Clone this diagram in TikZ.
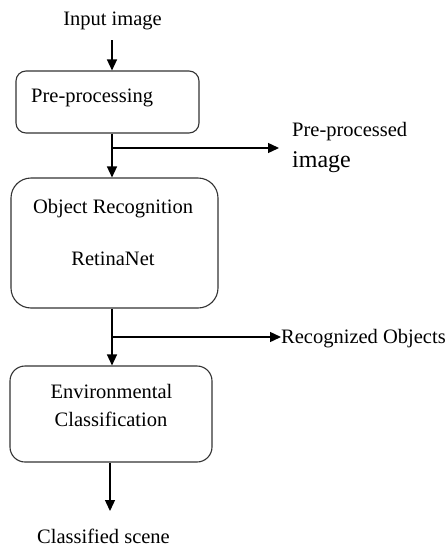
\documentclass[tikz,border=0pt]{standalone}
\usepackage{fontspec}
\setmainfont{Liberation Serif}
\usetikzlibrary{arrows.meta}
\begin{document}
\begin{tikzpicture}[x=1pt,y=-1pt,
  box/.style={draw=black!80,line width=1.1pt,rounded corners=#1,inner sep=0pt},
  box/.default=10pt,
  lbl/.style={font=\fontsize{20.5}{24}\selectfont,inner sep=0pt,anchor=base},
  arr/.style={line width=1.4pt,-{Triangle[length=11pt,width=10pt]}},
  ln/.style={line width=1.4pt}]
\useasboundingbox (0,0) rectangle (446,549);
% boxes
\node[box=10pt,minimum width=183pt,minimum height=62pt] (b1) at (107.5,102) {};
\node[box=20pt,minimum width=207pt,minimum height=130pt] (b2) at (114.5,243) {};
\node[box=15pt,minimum width=202pt,minimum height=96pt] (b3) at (111,414) {};
% texts
\node[lbl] (tin) at (112.5,25) {Input image};
\node[lbl,anchor=base west] (t1) at (31,102) {Pre-processing};
\node[lbl] (t2a) at (113,213) {Object Recognition};
\node[lbl] (t2b) at (113,265) {RetinaNet};
\node[lbl] (t3a) at (111.5,398) {Environmental};
\node[lbl] (t3b) at (111,426) {Classification};
\node[lbl] (tout) at (103.5,543) {Classified scene};
\node[lbl,anchor=base west] (pp1) at (292,136) {Pre-processed};
\node[lbl,anchor=base west,font=\fontsize{24}{28}\selectfont] (pp2) at (292,167) {image};
\node[lbl,anchor=base west] (ro) at (281,343) {Recognized Objects};
% coordinates
\coordinate (c0) at (112,40);
\coordinate (j1) at (112,148);
\coordinate (e1) at (279,148);
\coordinate (j2) at (112,337);
\coordinate (e2) at (281,337);
\coordinate (c3) at (110,462);
\coordinate (e3) at (110,511);
% connectors
\draw[arr] (c0) -- (c0 |- b1.north);
\draw[arr] (j1 |- b1.south) -- (j1 |- b2.north);
\draw[arr] (j1) -- (e1);
\draw[arr] (j2 |- b2.south) -- (j2 |- b3.north);
\draw[arr] (j2) -- (e2);
\draw[arr] (c3 |- b3.south) -- (e3);
\end{tikzpicture}
\end{document}
